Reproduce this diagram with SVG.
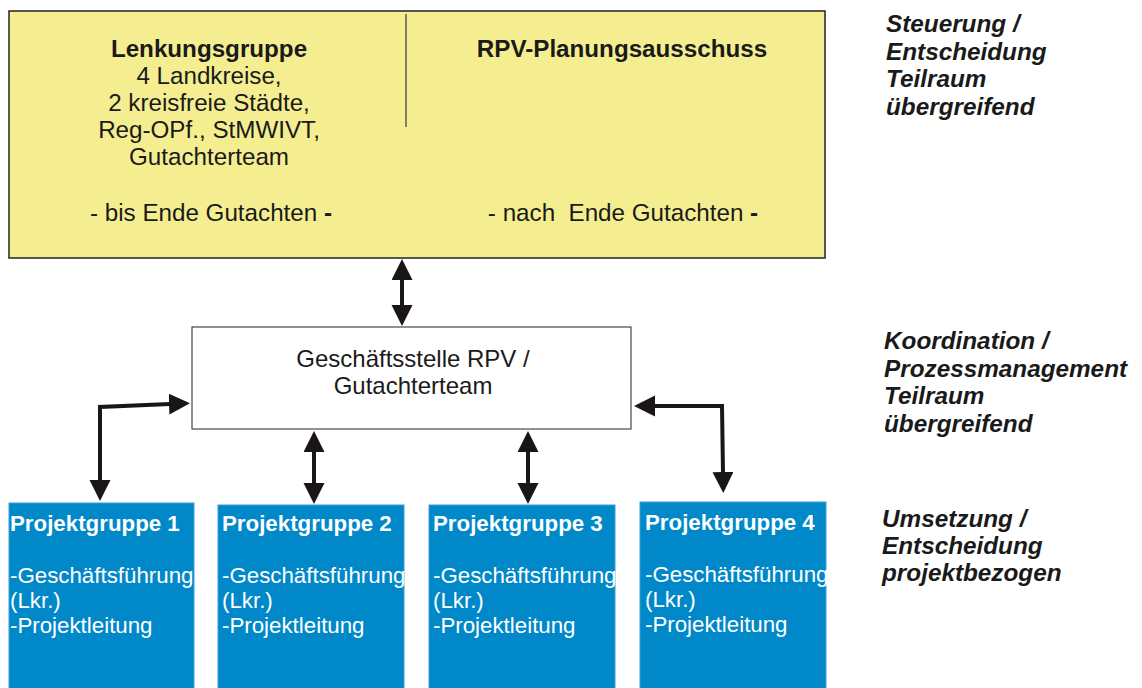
<svg xmlns="http://www.w3.org/2000/svg" width="1142" height="688" viewBox="0 0 1142 688">
<style>
.t{font-family:"Liberation Sans",Arial,sans-serif;fill:#1a1a1a}
.c{text-anchor:middle}
.b{font-weight:bold}
.lab{font-family:"Liberation Sans",Arial,sans-serif;font-weight:bold;font-style:italic;font-size:24.3px;fill:#1a1a1a}
.pg{font-family:"Liberation Sans",Arial,sans-serif;font-size:22.3px;fill:#ffffff}
.blue{fill:#0088c9;stroke:#3a9fd6;stroke-width:1}
.con{fill:none;stroke:#1a1616;stroke-width:4;stroke-linejoin:miter}
</style>
<defs>
<marker id="ah" markerUnits="userSpaceOnUse" markerWidth="22" markerHeight="22" refX="1" refY="10.5" orient="auto-start-reverse" viewBox="0 0 22 22">
<path d="M0,0 L21,10.5 L0,21 z" fill="#1a1616"/>
</marker>
</defs>
<rect width="1142" height="688" fill="#ffffff"/>

<g id="lenkung">
<rect x="9" y="11" width="816" height="247" fill="#f5ee90" stroke="#222222" stroke-width="1.5"/>
<line x1="406" y1="14" x2="406" y2="127" stroke="#7f7f6a" stroke-width="2"/>
<text class="t c" font-size="24.2" x="209" y="57"><tspan class="b">Lenkungsgruppe</tspan><tspan x="209" y="84">4 Landkreise,</tspan><tspan x="209" y="111">2 kreisfreie Städte,</tspan><tspan x="209" y="138">Reg-OPf., StMWIVT,</tspan><tspan x="209" y="165">Gutachterteam</tspan></text>
<text class="t c" font-size="24.2" x="211" y="221">- bis Ende Gutachten <tspan class="b">-</tspan></text>
<text class="t c b" font-size="24.2" x="622" y="57">RPV-Planungsausschuss</text>
<text class="t c" font-size="24.2" x="623" y="221" xml:space="preserve">- nach  Ende Gutachten <tspan class="b">-</tspan></text>
</g>

<g id="geschaeftsstelle">
<rect x="192" y="327" width="439" height="102" fill="#ffffff" stroke="#222222" stroke-width="1"/>
<text class="t c" font-size="24" x="413" y="367">Geschäftsstelle RPV /<tspan x="413" y="394">Gutachterteam</tspan></text>
</g>

<g id="pg1">
<rect class="blue" x="9" y="503" width="185" height="186"/>
<text class="pg" x="10"><tspan class="b" y="531">Projektgruppe 1</tspan><tspan x="10" y="583">-Geschäftsführung</tspan><tspan x="10" y="608">(Lkr.)</tspan><tspan x="10" y="633">-Projektleitung</tspan></text>
</g>
<g id="pg2">
<rect class="blue" x="218" y="505" width="186" height="184"/>
<text class="pg" x="222"><tspan class="b" y="531">Projektgruppe 2</tspan><tspan x="222" y="583">-Geschäftsführung</tspan><tspan x="222" y="608">(Lkr.)</tspan><tspan x="222" y="633">-Projektleitung</tspan></text>
</g>
<g id="pg3">
<rect class="blue" x="429" y="505" width="186" height="184"/>
<text class="pg" x="433"><tspan class="b" y="531">Projektgruppe 3</tspan><tspan x="433" y="583">-Geschäftsführung</tspan><tspan x="433" y="608">(Lkr.)</tspan><tspan x="433" y="633">-Projektleitung</tspan></text>
</g>
<g id="pg4">
<rect class="blue" x="640" y="502" width="186" height="187"/>
<text class="pg" x="645"><tspan class="b" y="530">Projektgruppe 4</tspan><tspan x="645" y="582">-Geschäftsführung</tspan><tspan x="645" y="607">(Lkr.)</tspan><tspan x="645" y="632">-Projektleitung</tspan></text>
</g>

<g id="labels">
<text class="lab" x="886" y="32">Steuerung /<tspan x="886" y="59.5">Entscheidung</tspan><tspan x="886" y="87">Teilraum</tspan><tspan x="886" y="114.5">übergreifend</tspan></text>
<text class="lab" x="884" y="349">Koordination /<tspan x="884" y="376.5">Prozessmanagement</tspan><tspan x="884" y="404">Teilraum</tspan><tspan x="884" y="431.5">übergreifend</tspan></text>
<text class="lab" x="882" y="527">Umsetzung /<tspan x="882" y="554">Entscheidung</tspan><tspan x="882" y="581">projektbezogen</tspan></text>
</g>

<g id="connectors">
<path class="con" d="M402,279 L402,306" marker-start="url(#ah)" marker-end="url(#ah)"/>
<path class="con" d="M170,404 L100,407 L100,481" marker-start="url(#ah)" marker-end="url(#ah)"/>
<path class="con" d="M314,451 L314,484" marker-start="url(#ah)" marker-end="url(#ah)"/>
<path class="con" d="M528,451 L528,484" marker-start="url(#ah)" marker-end="url(#ah)"/>
<path class="con" d="M654,406 L722,406 L723,473" marker-start="url(#ah)" marker-end="url(#ah)"/>
</g>
</svg>
